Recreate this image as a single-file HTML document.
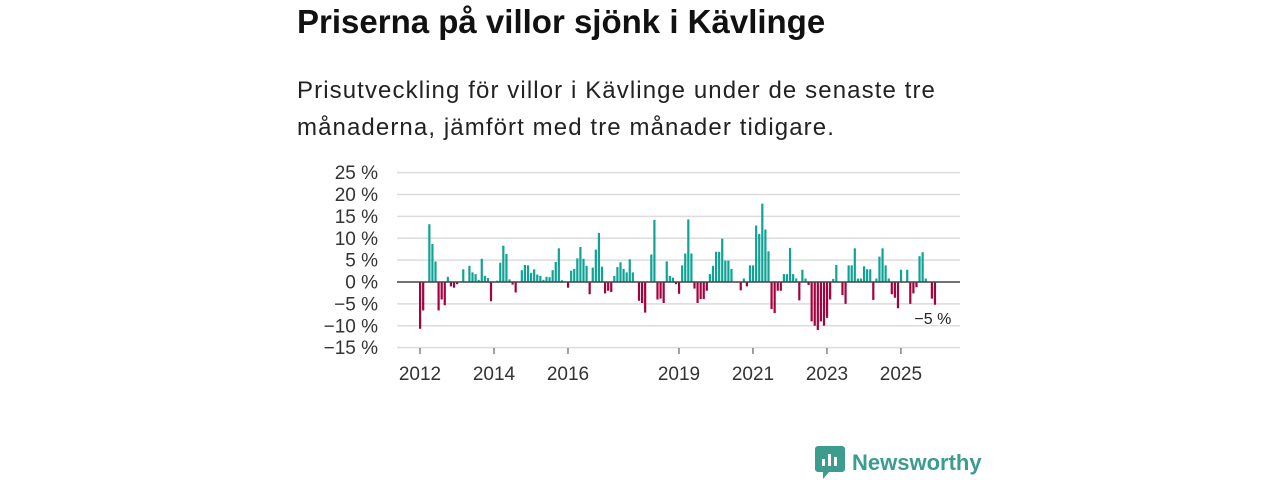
<!DOCTYPE html>
<html><head><meta charset="utf-8"><style>
body{margin:0;width:1280px;height:480px;background:#fff;font-family:"Liberation Sans",sans-serif;overflow:hidden;position:relative}
#title{position:absolute;left:297px;top:3px;font-size:33px;font-weight:bold;color:#111;margin:0}
#sub{position:absolute;left:297px;top:72px;font-size:24px;letter-spacing:1.1px;line-height:37px;color:#222;width:720px;margin:0}
svg{position:absolute;left:0;top:0}
#logo{position:absolute;left:815px;top:446px;display:flex;align-items:center}
#logo span{font-size:22px;font-weight:bold;color:#3c9c8e;margin-left:7px}
</style></head><body>
<h1 id="title">Priserna på villor sjönk i Kävlinge</h1>
<p id="sub">Prisutveckling för villor i Kävlinge under de senaste tre<br>månaderna, jämfört med tre månader tidigare.</p>
<svg id="chart" width="1280" height="480"></svg>
<div id="logo">
<svg width="30" height="33" style="position:static"><path d="M3 0h24a3 3 0 0 1 3 3v20a3 3 0 0 1-3 3H14l-6 7v-7H3a3 3 0 0 1-3-3V3a3 3 0 0 1 3-3z" fill="#3c9c8e"/><rect x="7" y="13" width="3" height="7" fill="#fff"/><rect x="13" y="8" width="3" height="12" fill="#fff"/><rect x="19" y="11" width="3" height="9" fill="#fff"/></svg>
<span>Newsworthy</span></div>
<script>
const values=[-10.7,-6.5,null,13.2,8.7,4.7,-6.5,-4.0,-5.3,1.2,-1.0,-1.3,-0.5,null,2.9,null,3.7,2.2,1.8,0.5,5.3,1.4,0.9,-4.4,null,0.3,4.4,8.3,6.4,0.6,-0.6,-2.4,null,2.7,3.9,3.8,2.1,2.9,1.7,1.4,0.5,1.2,1.1,2.7,4.6,7.7,0.4,null,
-1.3,2.6,3.0,5.4,8.0,5.3,3.7,-2.8,3.3,7.4,11.2,3.5,-2.6,-2.0,-2.3,1.4,3.4,4.5,3.0,2.2,5.2,2.2,null,-4.3,-4.8,-7.0,null,6.3,14.2,-4.0,-3.8,-4.8,4.7,1.4,1.0,-0.5,
-2.7,3.8,6.5,14.3,6.5,-1.5,-4.8,-3.9,-3.9,-2.0,1.8,3.7,6.9,6.9,9.9,4.9,4.9,3.0,null,null,-1.9,0.8,-1.0,3.8,3.8,12.9,11.0,17.9,12.0,7.0,-6.2,-7.1,-2.0,-2.0,1.8,1.8,7.8,1.8,0.8,-4.2,2.8,0.8,-0.7,-9.0,-10.0,-11.0,-9.0,-10.0,-8.2,-4.0,0.7,3.9,null,-3.0,-5.0,3.8,3.8,7.7,0.8,0.8,3.6,2.9,2.9,-4.1,0.8,5.8,7.7,3.8,0.8,-2.8,-3.6,-6.0,2.8,null,2.8,-5.0,-2.6,-1.2,5.9,6.8,0.8,null,-3.8,-5.2];
const yTicks=[25,20,15,10,5,0,-5,-10,-15];
const xTickYears=[2012,2014,2016,2019,2021,2023,2025];
const startYear=2012;
const lastLabel="\u22125 %";
const NS="http://www.w3.org/2000/svg";
const svg=document.getElementById('chart');
const y=v=>282-v*4.375;
const x=m=>420+m*3.083;
function el(t,a,p){const e=document.createElementNS(NS,t);for(const k in a)e.setAttribute(k,a[k]);(p||svg).appendChild(e);return e;}
yTicks.forEach(t=>{
 if(t!==0){const g=el('line',{x1:397,x2:960,y1:y(t),y2:y(t),stroke:'#dcdcdc','stroke-width':1.5});
 
 }
 const l=el('text',{x:378,y:y(t)+6.5,'text-anchor':'end','font-size':19,fill:'#333','font-family':'Liberation Sans'});
 l.textContent=(t<0?'\u2212'+(-t):t)+' %';
 
 
});
values.forEach((v,i)=>{
 if(v===null)return;
 const r=el('rect',{x:x(i)-1,width:2.2,y:Math.min(y(v),y(0)),height:Math.abs(y(v)-y(0)),fill:v>=0?'#0fa396':'#a3023f'});
 
 
});
const z=el('line',{x1:397,x2:960,y1:y(0),y2:y(0),stroke:'#444','stroke-width':1.5});


xTickYears.forEach(yr=>{
 const xx=x((yr-startYear)*12);
 const tk=el('line',{x1:xx,x2:xx,y1:348,y2:354,stroke:'#444','stroke-width':1});
 
 
 const l=el('text',{x:xx,y:380,'text-anchor':'middle','font-size':19,fill:'#333','font-family':'Liberation Sans'});
 l.textContent=yr;
 
 
});
const lab=el('text',{x:x(values.length-1)-2,y:324,'text-anchor':'middle','font-size':16,fill:'#222','font-family':'Liberation Sans',stroke:'#fff','stroke-width':3,'paint-order':'stroke'});
lab.textContent=lastLabel;


</script>
</body></html>
